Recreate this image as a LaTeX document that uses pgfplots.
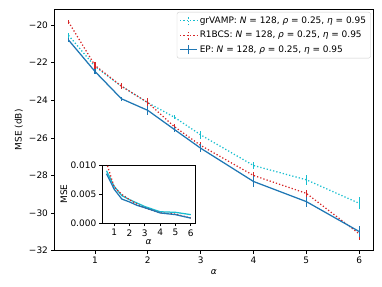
\documentclass[border=0pt]{standalone}
\usepackage{fontspec}
\setmainfont{DejaVu Sans}
\usepackage{pgfplots}
\pgfplotsset{compat=1.18}
\definecolor{tabblue}{HTML}{1F77B4}
\definecolor{tabred}{HTML}{D62728}
\definecolor{tabcyan}{HTML}{17BECF}
\begin{document}
\fontsize{9}{10.8}\selectfont
\begin{tikzpicture}
\path[use as bounding box] (0,0) rectangle (382bp,287bp);
\pgfplotsset{
  every axis/.append style={
    scale only axis,
    tick align=outside,
    xtick pos=left, ytick pos=left,
    major tick length=2.9bp,
    axis line style={line width=0.66bp},
    every tick/.style={black, line width=0.66bp},
    tick label style={font=\fontsize{9}{10.8}\selectfont},
    label style={font=\fontsize{9}{10.8}\selectfont},
    /pgf/number format/assume math mode=true,
  },
}
\begin{axis}[
  name=main,
  at={(54bp,36.3bp)}, anchor=south west,
  width=319.7bp, height=241.7bp,
  xmin=0.225, xmax=6.275, ymin=-32, ymax=-19.15,
  xtick={1,2,3,4,5,6},
  xticklabels={1,2,3,4,5,6},
  ytick={-32,-30,-28,-26,-24,-22,-20},
  yticklabels={−32,−30,−28,−26,−24,−22,−20},
  xlabel={\textit{α}}, ylabel={MSE (dB)},
  legend cell align=left,
  legend style={at={(1,1)}, anchor=north east, xshift=-3bp, yshift=-3bp,
    draw=black!20, rounded corners=2bp, fill=white, fill opacity=0.8, text opacity=1,
    font=\fontsize{9}{10.8}\selectfont, row sep=2.5bp, inner sep=2.5bp},
]
\addplot[tabcyan, line width=1.25bp, dash pattern=on 1.25bp off 2.06bp,
  legend image code/.code={
    \draw[tabcyan, line width=1.25bp, dash pattern=on 1.25bp off 2.06bp] (0bp,0bp) -- (17bp,0bp);
    \draw[tabcyan, line width=1.25bp] (8.5bp,-4.5bp) -- (8.5bp,4.5bp);},
  error bars/.cd, y dir=both, y explicit, error mark=none,
  error bar style={tabcyan, solid, line width=1.25bp}]
coordinates {
 (0.5,-20.55) +- (0,0.15)
 (1,-22.2) +- (0,0.15)
 (1.5,-23.25) +- (0,0.12)
 (2,-24.13) +- (0,0.15)
 (2.5,-24.9) +- (0,0.12)
 (3,-25.84) +- (0,0.2)
 (4,-27.47) +- (0,0.2)
 (5,-28.23) +- (0,0.28)
 (6,-29.48) +- (0,0.32)
};
\addlegendentry{grVAMP: \textit{N} = 128, \textit{ρ} = 0.25, \textit{η} = 0.95}
\addplot[tabred, line width=1.25bp, dash pattern=on 1.25bp off 2.06bp,
  legend image code/.code={
    \draw[tabred, line width=1.25bp, dash pattern=on 1.25bp off 2.06bp] (0bp,0bp) -- (17bp,0bp);
    \draw[tabred, line width=1.25bp] (8.5bp,-4.5bp) -- (8.5bp,4.5bp);},
  error bars/.cd, y dir=both, y explicit, error mark=none,
  error bar style={tabred, solid, line width=1.25bp}]
coordinates {
 (0.5,-19.84) +- (0,0.1)
 (1,-22.15) +- (0,0.2)
 (1.5,-23.25) +- (0,0.15)
 (2,-24.13) +- (0,0.25)
 (2.5,-25.4) +- (0,0.15)
 (3,-26.4) +- (0,0.18)
 (4,-28.0) +- (0,0.2)
 (5,-28.95) +- (0,0.2)
 (6,-31.1) +- (0,0.35)
};
\addlegendentry{R1BCS: \textit{N} = 128, \textit{ρ} = 0.25, \textit{η} = 0.95}
\addplot[tabblue, line width=1.25bp,
  legend image code/.code={
    \draw[tabblue, line width=1.25bp] (0bp,0bp) -- (17bp,0bp);
    \draw[tabblue, line width=1.25bp] (8.5bp,-4.5bp) -- (8.5bp,4.5bp);},
  error bars/.cd, y dir=both, y explicit, error mark=none,
  error bar style={tabblue, solid, line width=1.25bp}]
coordinates {
 (0.5,-20.8) +- (0,0.1)
 (1,-22.47) +- (0,0.15)
 (1.5,-23.92) +- (0,0.1)
 (2,-24.54) +- (0,0.22)
 (2.5,-25.55) +- (0,0.15)
 (3,-26.55) +- (0,0.2)
 (4,-28.32) +- (0,0.27)
 (5,-29.39) +- (0,0.27)
 (6,-30.98) +- (0,0.31)
};
\addlegendentry{EP: \textit{N} = 128, \textit{ρ} = 0.25, \textit{η} = 0.95}
\end{axis}
\begin{axis}[
  at={(102.3bp,63.7bp)}, anchor=south west,
  width=92.7bp, height=58.3bp,
  axis background/.style={fill=white},
  xmin=0.225, xmax=6.275, ymin=0, ymax=0.0101,
  xtick={1,2,3,4,5,6},
  xticklabels={1,2,3,4,5,6},
  ytick={0,0.005,0.01},
  yticklabels={0.000,0.005,0.010},
  scaled y ticks=false,
  xlabel={\textit{α}}, ylabel={MSE},
  xlabel style={yshift=3bp}, ylabel style={yshift=-3bp},
  clip=true,
]
\addplot[tabcyan, line width=1.25bp] coordinates {
 (0.5,0.0091) (1,0.0064) (1.5,0.0048) (2,0.0041) (2.5,0.0035) (3,0.0029) (4,0.0020) (5,0.0019) (6,0.0015)
};
\addplot[tabred, line width=1.25bp, dash pattern=on 1.25bp off 2.06bp] coordinates {
 (0.5,0.0105) (1,0.0063) (1.5,0.0050) (2,0.0041) (2.5,0.0033) (3,0.0027) (4,0.0018) (5,0.0016) (6,0.0009)
};
\addplot[tabblue, line width=1.25bp] coordinates {
 (0.5,0.0086) (1,0.0059) (1.5,0.0042) (2,0.0037) (2.5,0.0031) (3,0.0027) (4,0.0018) (5,0.0015) (6,0.0009)
};
\end{axis}
\end{tikzpicture}
\end{document}
